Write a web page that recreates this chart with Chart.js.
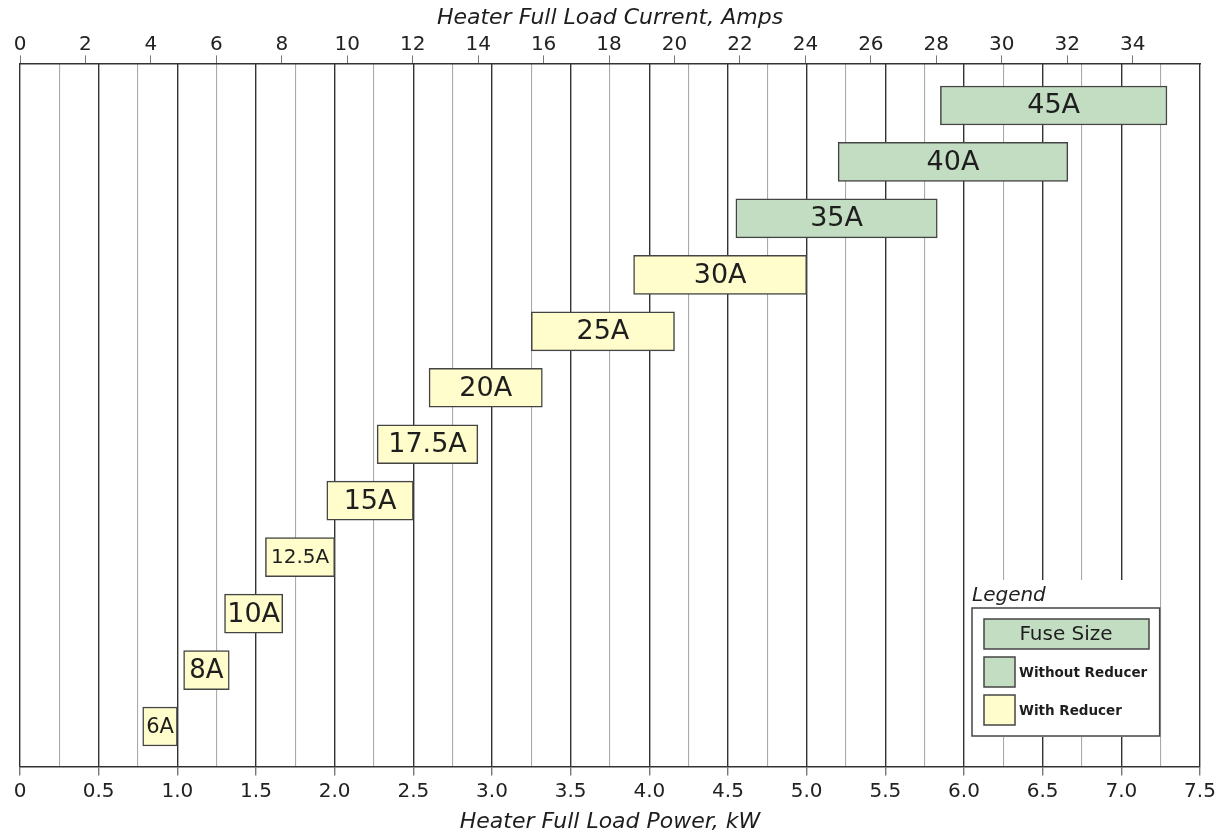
<!DOCTYPE html>
<html>
<head>
<meta charset="utf-8">
<script src="https://cdn.jsdelivr.net/npm/chart.js@4.4.1/dist/chart.umd.min.js"></script>
<style>
  html, body { margin: 0; padding: 0; background: #fff; }
  #wrap { width: 1222px; height: 835px; }
</style>
</head>
<body>
<div id="wrap"><canvas id="chart" width="1222" height="835"></canvas></div>
<script>
// fuse sizes, top row first
const fuseLabels = ["45A", "40A", "35A", "30A", "25A", "20A", "17.5A", "15A", "12.5A", "10A", "8A", "6A"];
// heater power range covered by each fuse, kW
const kwLow = [5.85, 5.20, 4.55, 3.90, 3.25, 2.60, 2.27, 1.95, 1.56, 1.30, 1.04, 0.78];
const kwHigh = [7.29, 6.66, 5.83, 5.00, 4.16, 3.32, 2.91, 2.50, 2.00, 1.67, 1.33, 1.00];
const reducer = ["without", "without", "without", "with", "with", "with", "with", "with", "with", "with", "with", "with"];
// label size per bar (px)
const labelSize = [27, 27, 27, 27, 27, 27, 27, 27, 20, 27, 26, 21];

const kwMax = 7.5;
const volts = 208;
const ampTicks = [0, 2, 4, 6, 8, 10, 12, 14, 16, 18, 20, 22, 24, 26, 28, 30, 32, 34];

const GREEN = "#c3ddc3";
const YELLOW = "#fffdcb";
const FONT = "'DejaVu Sans', sans-serif";

const isHalf = (v) => Math.abs(v * 2 - Math.round(v * 2)) < 1e-6;

const barLabels = {
  id: "barLabels",
  afterDatasetsDraw(chart) {
    const ctx = chart.ctx;
    const meta = chart.getDatasetMeta(0);
    ctx.save();
    ctx.fillStyle = "#1e1e1e";
    ctx.textAlign = "center";
    ctx.textBaseline = "middle";
    meta.data.forEach((bar, i) => {
      ctx.font = labelSize[i] + "px " + FONT;
      ctx.fillText(fuseLabels[i], (bar.x + bar.base) / 2, bar.y + 1);
    });
    ctx.restore();
  }
};

const legendBox = {
  id: "legendBox",
  afterDatasetsDraw(chart) {
    const ctx = chart.ctx;
    const xs = chart.scales.x;
    const left = xs.getPixelForValue(6.0);
    const right = xs.getPixelForValue(7.25);
    ctx.save();
    ctx.fillStyle = "#fff";
    ctx.fillRect(left + 1, 580, right - left - 2, 157);

    ctx.fillStyle = "#222";
    ctx.font = "italic 20px " + FONT;
    ctx.textAlign = "left";
    ctx.textBaseline = "alphabetic";
    ctx.fillText("Legend", left + 8, 601);

    ctx.strokeStyle = "#444";
    ctx.lineWidth = 1.5;
    ctx.strokeRect(left + 8, 608, right - left - 9, 128);

    ctx.fillStyle = GREEN;
    ctx.fillRect(984, 619, 165, 30);
    ctx.strokeRect(984, 619, 165, 30);
    ctx.fillRect(984, 657, 31, 30);
    ctx.strokeRect(984, 657, 31, 30);
    ctx.fillStyle = YELLOW;
    ctx.fillRect(984, 695, 31, 30);
    ctx.strokeRect(984, 695, 31, 30);

    ctx.fillStyle = "#1e1e1e";
    ctx.textAlign = "center";
    ctx.textBaseline = "middle";
    ctx.font = "20px " + FONT;
    ctx.fillText("Fuse Size", 1066, 635);
    ctx.textAlign = "left";
    ctx.font = "bold 13.5px " + FONT;
    ctx.fillText("Without Reducer", 1019, 673);
    ctx.fillText("With Reducer", 1019, 711);
    ctx.restore();
  }
};

new Chart(document.getElementById("chart"), {
  type: "bar",
  data: {
    datasets: [{
      data: fuseLabels.map((l, i) => ({ x: [kwLow[i], kwHigh[i]], y: i })),
      backgroundColor: reducer.map((r) => (r === "with" ? YELLOW : GREEN)),
      borderColor: "#444",
      borderWidth: 1.5,
      borderSkipped: false,
      barThickness: 39,
      xAxisID: "x",
      yAxisID: "y"
    }]
  },
  plugins: [barLabels, legendBox],
  options: {
    indexAxis: "y",
    responsive: false,
    animation: false,
    layout: { padding: { left: 20, right: 22, top: 5, bottom: 0 } },
    plugins: { legend: { display: false }, tooltip: { enabled: false } },
    scales: {
      y: {
        type: "linear",
        reverse: true,
        offset: false,
        min: -0.745,
        max: 11.71,
        display: false,
        grid: { offset: false }
      },
      x: {
        type: "linear",
        position: "bottom",
        min: 0,
        max: kwMax,
        ticks: {
          stepSize: 0.25,
          autoSkip: false,
          maxRotation: 0,
          padding: 4,
          color: "#222",
          font: { family: FONT, size: 20 },
          callback: (v) => (isHalf(v) ? (v === 0 ? "0" : v.toFixed(1)) : "")
        },
        grid: {
          color: (c) => (isHalf(c.tick.value) ? "#333" : "#aaa"),
          lineWidth: (c) => (isHalf(c.tick.value) ? 1.4 : 1.1),
          tickColor: (c) => (isHalf(c.tick.value) ? "#777" : "rgba(0,0,0,0)"),
          tickLength: 9
        },
        border: { color: "#333", width: 1.5 },
        title: {
          display: true,
          text: "Heater Full Load Power, kW",
          color: "#1e1e1e",
          font: { family: FONT, size: 22, style: "italic" },
          padding: { top: 1, bottom: 0 }
        }
      },
      x2: {
        type: "linear",
        position: "top",
        min: 0,
        max: kwMax * 1000 / volts,
        afterBuildTicks: (scale) => {
          scale.ticks = ampTicks.map((v) => ({ value: v }));
        },
        ticks: {
          autoSkip: false,
          maxRotation: 0,
          padding: -1,
          color: "#222",
          font: { family: FONT, size: 20 }
        },
        grid: {
          drawOnChartArea: false,
          color: "#777",
          tickColor: "#777",
          tickLength: 8
        },
        border: { color: "#333", width: 1.5 },
        title: {
          display: true,
          text: "Heater Full Load Current, Amps",
          color: "#1e1e1e",
          font: { family: FONT, size: 22, style: "italic" },
          padding: { top: 0, bottom: 2 }
        }
      }
    }
  }
});
</script>
</body>
</html>
